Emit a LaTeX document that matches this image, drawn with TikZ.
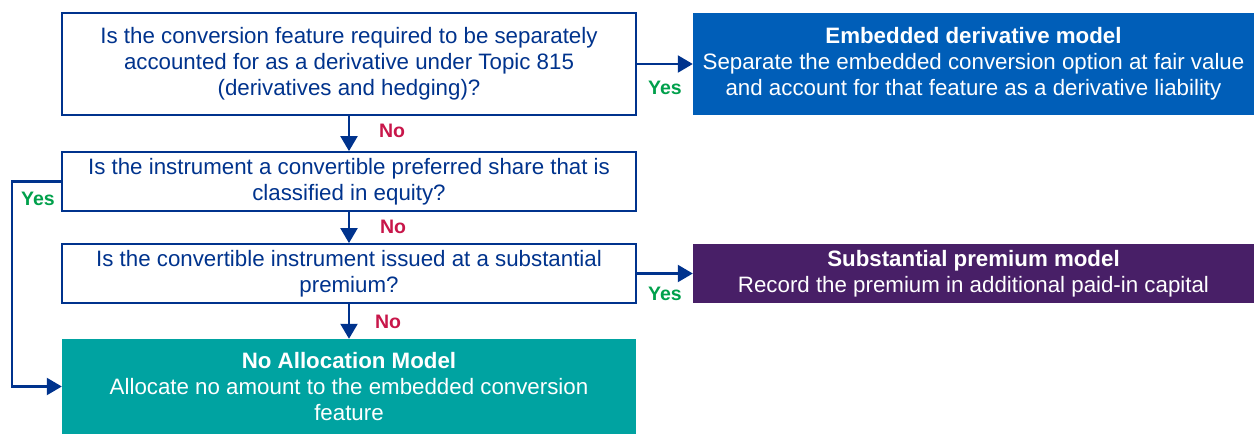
\documentclass[tikz,border=0pt]{standalone}
\usepackage{fontspec}
\setmainfont{Liberation Sans}
\usetikzlibrary{arrows.meta}
\definecolor{navy}{HTML}{00338D}
\definecolor{kblue}{HTML}{005EB8}
\definecolor{kpurple}{HTML}{481F67}
\definecolor{kteal}{HTML}{00A3A1}
\definecolor{kgreen}{HTML}{00A04B}
\definecolor{kred}{HTML}{C8164A}
\tikzset{
  qbox/.style={draw=navy, line width=1.8pt, fill=white, text=navy, align=center, inner sep=0pt, font=\fontsize{22.3}{26}\selectfont},
  mbox/.style={inner sep=0pt, text=white, align=center, font=\fontsize{22.3}{26}\selectfont},
  conn/.style={draw=navy, line width=2.2pt, -{Triangle[length=15pt,width=17pt]}},
  yeslab/.style={text=kgreen, font=\fontsize{19.5}{22}\selectfont\bfseries},
  nolab/.style={text=kred, font=\fontsize{19.5}{22}\selectfont\bfseries},
}
\begin{document}
\begin{tikzpicture}[x=1pt,y=-1pt]
\useasboundingbox (0,0) rectangle (1254,434);
\node[qbox, minimum width=574, minimum height=102] (q1) at (349,64) {Is the conversion feature required to be separately\\accounted for as a derivative under Topic 815\\(derivatives and hedging)?};
\node[qbox, minimum width=574, minimum height=59] (q2) at (349,181.5) {Is the instrument a convertible preferred share that is\\classified in equity?};
\node[qbox, minimum width=574, minimum height=59] (q3) at (349,273.5) {Is the convertible instrument issued at a substantial\\premium?};
\node[mbox, fill=kteal, minimum width=574, minimum height=95] (na) at (349,386.5) {\textbf{No Allocation Model}\\Allocate no amount to the embedded conversion\\feature};
\node[mbox, fill=kblue, minimum width=561, minimum height=102] (ed) at (973.5,64) {\textbf{Embedded derivative model}\\Separate the embedded conversion option at fair value\\and account for that feature as a derivative liability};
\node[mbox, fill=kpurple, minimum width=561, minimum height=59] (sp) at (973.5,273.5) {\textbf{Substantial premium model}\\Record the premium in additional paid-in capital};
\draw[conn] (q1.east) -- (ed.west);
\draw[conn] (q3.east) -- (sp.west);
\draw[conn] (q1.south) -- (q2.north);
\draw[conn] (q2.south) -- (q3.north);
\draw[conn] (q3.south) -- (na.north);
\coordinate (lp) at (12,181.5);
\draw[conn] (q2.west) -- (lp) |- (na.west);
\node[yeslab] (y1) at (665,88) {Yes};
\node[yeslab] (y2) at (665,294) {Yes};
\node[yeslab] (y3) at (38,199) {Yes};
\node[nolab] (n1) at (392,131) {No};
\node[nolab] (n2) at (393,227) {No};
\node[nolab] (n3) at (388,322) {No};
\end{tikzpicture}
\end{document}
